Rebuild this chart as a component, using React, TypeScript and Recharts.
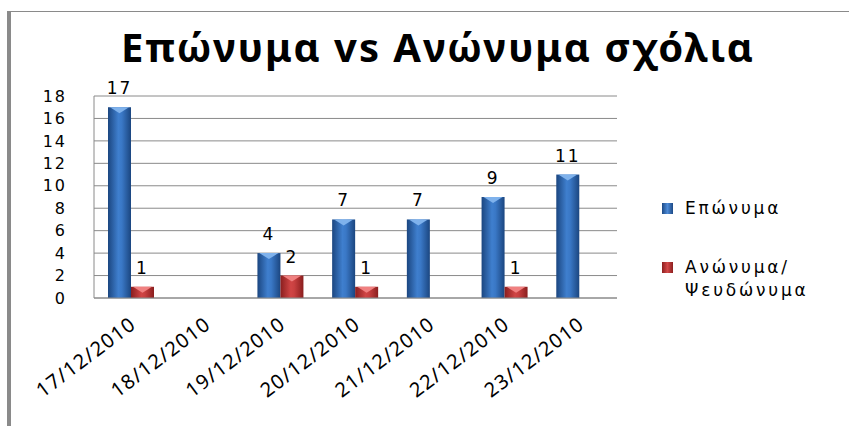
import { BarChart, Bar, XAxis, YAxis, CartesianGrid, Legend, LabelList } from "recharts";

const dates = ["17/12/2010", "18/12/2010", "19/12/2010", "20/12/2010", "21/12/2010", "22/12/2010", "23/12/2010"];
const named = [17, 0, 4, 7, 7, 9, 11];
const anonymous = [1, 0, 2, 1, 0, 1, 0];
const yTicks = [0, 2, 4, 6, 8, 10, 12, 14, 16, 18];

const NAMED_LABEL = "Επώνυμα";
const ANON_LABEL = "Ανώνυμα/Ψευδώνυμα";

const data = dates.map((d, i) => ({ date: d, named: named[i], anonymous: anonymous[i] }));

const tickFont = "'DejaVu Sans', Verdana, sans-serif";

// cylinder-ish bar: horizontal gradient plus a light bevel at the top
const makeShape = (grad: string, cap: string) => (props: any) => {
  const { x, y, width, height } = props;
  if (!height || height <= 0) return <g />;
  const capH = Math.min(6, height);
  return (
    <g>
      <rect x={x} y={y} width={width} height={height} fill={`url(#${grad})`} />
      <polygon points={`${x + 2},${y} ${x + width - 2},${y} ${x + width / 2},${y + capH}`} fill={cap} />
    </g>
  );
};

const DateTick = (props: any) => {
  const { x, y, payload } = props;
  return (
    <text
      x={x + 6}
      y={y + 21}
      textAnchor="end"
      transform={`rotate(-37, ${x + 6}, ${y + 21})`}
      fontSize={20}
      letterSpacing={1.2}
      fontFamily="'Noto Sans', sans-serif"
      fill="#000"
    >
      {payload.value}
    </text>
  );
};

const hideZero = (v: any) => (v === 0 ? "" : v);

const LegendContent = () => (
  <div style={{ fontFamily: tickFont, fontSize: 17, color: "#000", letterSpacing: 2.8 }}>
    <div style={{ display: "flex", alignItems: "center", height: 24 }}>
      <span style={{ width: 11, height: 11, background: "linear-gradient(90deg,#1d4a86,#4d8ad6,#1d4a86)", marginRight: 12 }} />
      <span>{NAMED_LABEL}</span>
    </div>
    <div style={{ display: "flex", alignItems: "flex-start", marginTop: 36 }}>
      <span style={{ width: 11, height: 11, background: "linear-gradient(90deg,#8c1f1f,#d24848,#8c1f1f)", marginRight: 12, marginTop: 6 }} />
      <span style={{ lineHeight: "23px" }}>
        {ANON_LABEL.split("/")[0]}/
        <br />
        {ANON_LABEL.split("/")[1]}
      </span>
    </div>
  </div>
);

export default function App() {
  return (
    <div style={{ position: "absolute", left: 0, top: 0, width: 849, height: 426, background: "#fff" }}>
      <div style={{ position: "absolute", left: 7, top: 11, width: 4, height: 415, background: "#8a8a8a" }} />
      <div style={{ position: "absolute", left: 7, top: 11, width: 842, height: 1, background: "#8a8a8a" }} />
      <div
        style={{
          position: "absolute",
          left: 0,
          width: 876,
          top: 19,
          textAlign: "center",
          fontFamily: "'Noto Sans', sans-serif",
          fontWeight: "bold",
          fontSize: 40,
          letterSpacing: 2,
          color: "#000",
        }}
      >
        Επώνυμα vs Ανώνυμα σχόλια
      </div>
      <BarChart
        width={849}
        height={426}
        data={data}
        margin={{ top: 96, right: 232, left: 14, bottom: 0 }}
        barSize={23}
        barGap={0}
        style={{ position: "absolute", left: 0, top: 0 }}
      >
        <defs>
          <linearGradient id="gBlue" x1="0" y1="0" x2="1" y2="0">
            <stop offset="0%" stopColor="#1b4680" />
            <stop offset="45%" stopColor="#3f7fce" />
            <stop offset="60%" stopColor="#3a78c6" />
            <stop offset="100%" stopColor="#1b4680" />
          </linearGradient>
          <linearGradient id="gRed" x1="0" y1="0" x2="1" y2="0">
            <stop offset="0%" stopColor="#8a1e1e" />
            <stop offset="45%" stopColor="#d04545" />
            <stop offset="60%" stopColor="#c84040" />
            <stop offset="100%" stopColor="#8a1e1e" />
          </linearGradient>
        </defs>
        <CartesianGrid horizontal vertical={false} stroke="#8a8a8a" />
        <XAxis
          dataKey="date"
          height={128}
          interval={0}
          tickLine={false}
          axisLine={{ stroke: "#8a8a8a" }}
          tick={<DateTick />}
        />
        <YAxis
          width={80}
          domain={[0, 18]}
          ticks={yTicks}
          interval={0}
          tickLine={false}
          tickMargin={21}
          axisLine={{ stroke: "#8a8a8a" }}
          tick={{ fontSize: 16, fontFamily: tickFont, fill: "#000", letterSpacing: 2 }}
        />
        <Legend
          layout="vertical"
          align="center"
          verticalAlign="middle"
          wrapperStyle={{ left: 662, top: 196, width: 185 }}
          content={<LegendContent />}
        />
        <Bar dataKey="named" name={NAMED_LABEL} isAnimationActive={false} shape={makeShape("gBlue", "#7fb2ec")}>
          <LabelList dataKey="named" position="top" offset={13} formatter={hideZero} style={{ fontSize: 17, fontFamily: tickFont, fill: "#000", letterSpacing: 2 }} />
        </Bar>
        <Bar dataKey="anonymous" name={ANON_LABEL} isAnimationActive={false} shape={makeShape("gRed", "#f08080")}>
          <LabelList dataKey="anonymous" position="top" offset={13} formatter={hideZero} style={{ fontSize: 17, fontFamily: tickFont, fill: "#000", letterSpacing: 2 }} />
        </Bar>
      </BarChart>
    </div>
  );
}
